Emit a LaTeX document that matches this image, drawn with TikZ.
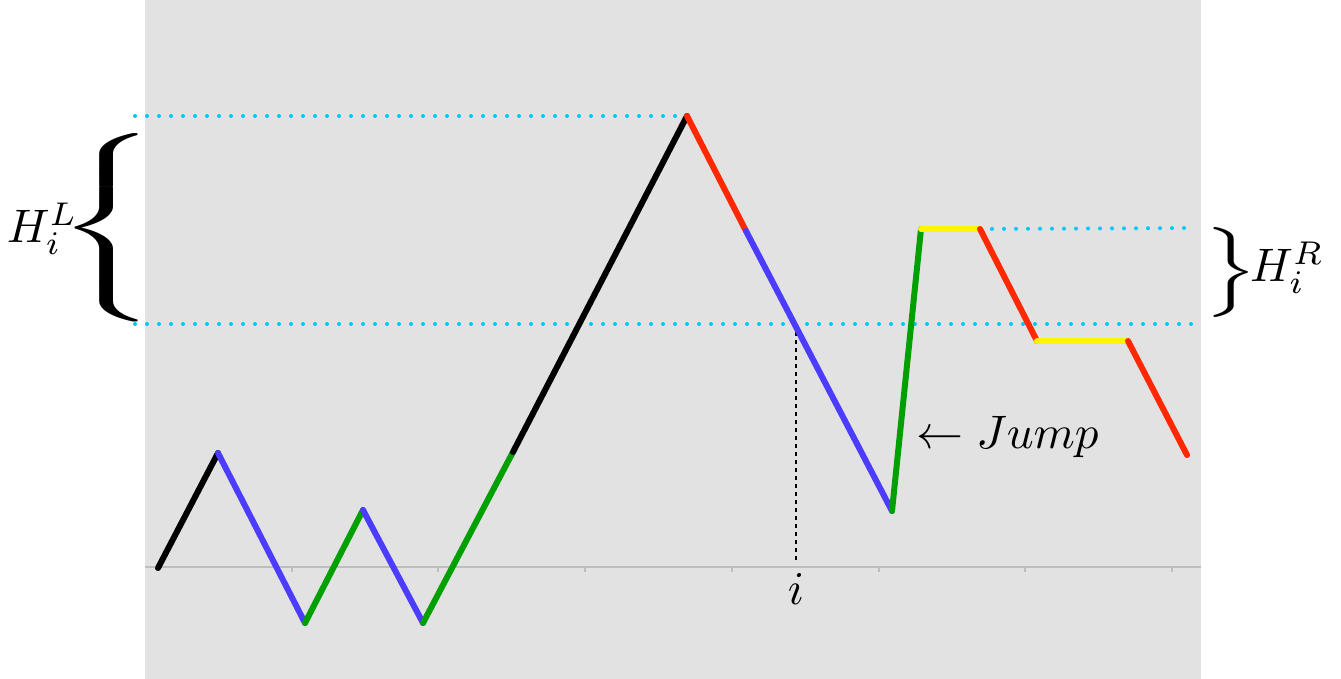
\documentclass[tikz,border=0pt]{standalone}
\usepackage{graphicx}
\definecolor{bggray}{RGB}{226,226,226}
\definecolor{axisgray}{RGB}{190,190,190}
\definecolor{dotcyan}{RGB}{0,200,255}
\definecolor{segblue}{RGB}{75,60,255}
\definecolor{seggreen}{RGB}{0,160,0}
\definecolor{segred}{RGB}{255,40,0}
\definecolor{segyellow}{RGB}{255,245,0}
\newcommand{\bigtxt}[1]{\scalebox{4.7}{#1}}
\tikzset{
  seg/.style={line width=6pt, line cap=round},
  guide/.style={dotcyan, line width=4pt, line cap=round, dash pattern=on 0pt off 12pt},
  lbl/.style={inner sep=0pt},
}
\begin{document}
\begin{tikzpicture}[x=1pt,y=-1pt]
\useasboundingbox (0,0) rectangle (1341,679);
\fill[bggray] (145,0) rectangle (1201,679);
% axis
\draw[axisgray, line width=2pt] (145,567) -- (1201,567);
\foreach \t in {292,438,585,732,879,1025,1172}
  \draw[axisgray, line width=1.5pt] (\t,567) -- (\t,572);
% path points
\coordinate (p0) at (158,568);
\coordinate (p1) at (218,453);
\coordinate (p2) at (305,623);
\coordinate (p3) at (363,510);
\coordinate (p4) at (423,623);
\coordinate (p5) at (513,452);
\coordinate (p6) at (687,116);
\coordinate (p7) at (746,231);
\coordinate (p8) at (892,511);
\coordinate (p9) at (921,229);
\coordinate (p10) at (980,229);
\coordinate (p11) at (1037,341);
\coordinate (p12) at (1128,341);
\coordinate (p13) at (1187,455);
% guides
\coordinate (gl1) at (135,116);
\coordinate (gl2) at (135,324);
\coordinate (gr1) at (1195,228);
\coordinate (gr2) at (1195,324);
\draw[guide] (gl1) -- (p6);
\draw[guide] (gl2) -- (gr2);
\draw[guide] (p10) -- (gr1);
% vertical dashed line to i
\coordinate (ip) at (796,324);
\coordinate (ie) at (796,560);
\node[lbl] (i) at (796,589) {\bigtxt{$i$}};
\draw[black, line width=2.2pt, dash pattern=on 4pt off 4pt] (ip) -- (ie);
% path segments
\draw[seg, black] (p0) -- (p1);
\draw[seg, segblue] (p1) -- (p2);
\draw[seg, seggreen] (p2) -- (p3);
\draw[seg, segblue] (p3) -- (p4);
\draw[seg, seggreen] (p4) -- (p5);
\draw[seg, black] (p5) -- (p6);
\draw[seg, segred] (p6) -- (p7);
\draw[seg, segblue] (p7) -- (p8);
\draw[seg, seggreen] (p8) -- (p9);
\draw[seg, segyellow] (p9) -- (p10);
\draw[seg, segred] (p10) -- (p11);
\draw[seg, segyellow] (p11) -- (p12);
\draw[seg, segred] (p12) -- (p13);
% braces and labels
\node[inner sep=0pt] (lb) at (114,227.5) {\scalebox{11.5}[4.5]{$\left\{\vcenter{\hrule height 20.5pt depth 20.5pt width 0pt}\right.$}};
\node[lbl, anchor=east] (HL) at (78,229) {\bigtxt{$H_i^L$}};
\node[inner sep=0pt] (rb) at (1226,273) {\scalebox{8}[5]{$\left.\vcenter{\hrule height 9pt depth 9pt width 0pt}\right\}$}};
\node[lbl, anchor=west] (HR) at (1250,268) {\bigtxt{$H_i^R$}};
\node[lbl, anchor=west] (jump) at (916,437) {\bigtxt{$\leftarrow Jump$}};
\end{tikzpicture}
\end{document}
